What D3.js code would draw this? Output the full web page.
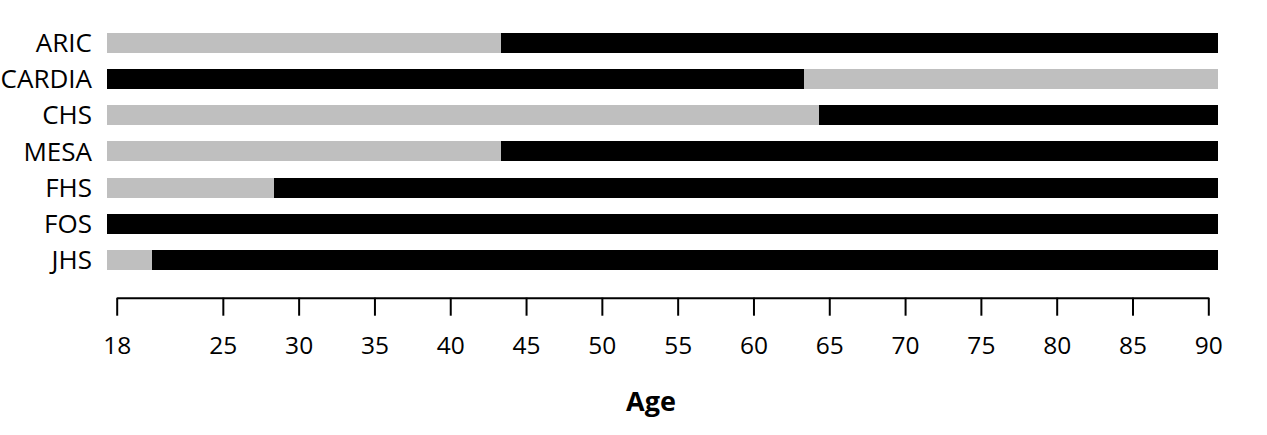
<!DOCTYPE html>
<html>
<head>
<meta charset="utf-8">
<script src="https://cdn.jsdelivr.net/npm/d3@7"></script>
<style>
  html, body { margin: 0; padding: 0; background: #fff; }
  svg { display: block; }
</style>
</head>
<body>
<svg id="chart" width="1267" height="435"></svg>
<script>
// Data
const studies = ["ARIC", "CARDIA", "CHS", "MESA", "FHS", "FOS", "JHS"];
const startAge = [17.36, 17.36, 17.36, 17.36, 17.36, 17.36, 17.36];
const changeAge = [43.35, 63.34, 64.33, 43.35, 28.38, 90.65, 20.33];
const endAge = [90.65, 90.65, 90.65, 90.65, 90.65, 90.65, 90.65];
// colour of the first / second segment: "g" = grey, "b" = black
const firstColor = ["g", "b", "g", "g", "g", "b", "g"];
const tickValues = [18, 25, 30, 35, 40, 45, 50, 55, 60, 65, 70, 75, 80, 85, 90];
const axisTitle = "Age";

const colors = { g: "#bfbfbf", b: "#000000" };
const FONT = "'Open Sans', 'Noto Sans', sans-serif";

const svg = d3.select("#chart");

const x = d3.scaleLinear().domain([18, 90]).range([116.7, 1208.3]);
const y = d3.scaleBand().domain(studies).range([32.6, 270]).paddingInner(0.45).paddingOuter(0);

const segs = [];
studies.forEach((s, i) => {
  const c1 = firstColor[i];
  const c2 = c1 === "g" ? "b" : "g";
  if (changeAge[i] > startAge[i]) segs.push({ s, a: startAge[i], b: changeAge[i], c: colors[c1] });
  if (endAge[i] > changeAge[i]) segs.push({ s, a: changeAge[i], b: endAge[i], c: colors[c2] });
});

svg.append("g").selectAll("rect").data(segs).join("rect")
  .attr("x", d => x(d.a))
  .attr("width", d => x(d.b) - x(d.a))
  .attr("y", d => y(d.s))
  .attr("height", y.bandwidth())
  .attr("fill", d => d.c)
  .attr("shape-rendering", "crispEdges");

// Y labels
svg.append("g").selectAll("text").data(studies).join("text")
  .attr("x", 92)
  .attr("y", d => y(d) + y.bandwidth() / 2)
  .attr("dy", "0.36em")
  .attr("text-anchor", "end")
  .attr("font-family", FONT)
  .attr("font-size", 26)
  .attr("fill", "#000")
  .text(d => d);

// X axis
const axis = d3.axisBottom(x).tickValues(tickValues).tickSize(18).tickSizeOuter(0).tickPadding(21);
const gx = svg.append("g").attr("transform", "translate(0,297.7)").call(axis);
gx.select(".domain").attr("stroke", "#000").attr("stroke-width", 2);
gx.selectAll(".tick line").attr("stroke", "#000").attr("stroke-width", 2);
gx.selectAll(".tick text")
  .attr("font-family", FONT)
  .attr("font-size", 24.5)
  .attr("fill", "#000");

svg.append("text")
  .attr("x", 651)
  .attr("y", 411)
  .attr("text-anchor", "middle")
  .attr("font-family", FONT)
  .attr("font-weight", "bold")
  .attr("font-size", 27)
  .attr("fill", "#000")
  .text(axisTitle);
</script>
</body>
</html>
